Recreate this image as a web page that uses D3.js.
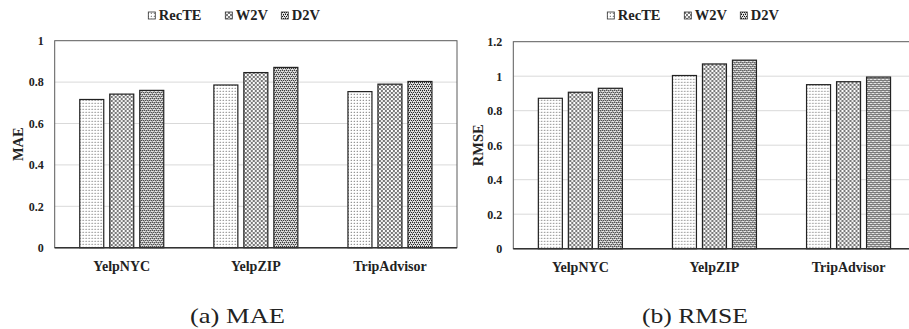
<!DOCTYPE html>
<html><head><meta charset="utf-8">
<script src="https://cdn.jsdelivr.net/npm/d3@7"></script>
<style>
html,body{margin:0;padding:0;background:#fff;}
svg{display:block;}
</style></head>
<body>
<svg id="chart" width="909" height="329"></svg>
<script>
const categories = ["YelpNYC", "YelpZIP", "TripAdvisor"];
const seriesNames = ["RecTE", "W2V", "D2V"];
const maeRecTE = [0.716, 0.786, 0.754];
const maeW2V   = [0.742, 0.846, 0.790];
const maeD2V   = [0.760, 0.871, 0.803];
const rmseRecTE = [0.872, 1.004, 0.951];
const rmseW2V   = [0.907, 1.071, 0.968];
const rmseD2V   = [0.930, 1.093, 0.995];
const maeTicks  = [0, 0.2, 0.4, 0.6, 0.8, 1];
const rmseTicks = [0, 0.2, 0.4, 0.6, 0.8, 1, 1.2];
const captions = ["(a) MAE", "(b) RMSE"];

const svg = d3.select("#chart");
const defs = svg.append("defs");

// patterns
function pat(id, size, bg, cells) {
  const p = defs.append("pattern").attr("id", id)
    .attr("patternUnits", "userSpaceOnUse").attr("width", size).attr("height", size);
  p.append("rect").attr("width", size).attr("height", size).attr("fill", bg);
  cells.forEach(c => p.append("rect").attr("x", c[0]).attr("y", c[1])
    .attr("width", c[2]).attr("height", c[3]).attr("fill", c[4]));
}
pat("pRecTE", 3, "#ffffff", [[1,1,1,1,"#8a8a8a"],[0,1,1,1,"#e4e4e4"],[1,0,1,1,"#e4e4e4"]]);
pat("pW2V", 4, "#ffffff", [[0,0,2,2,"#7a7a7a"],[2,2,2,2,"#7a7a7a"],[2,0,2,2,"#e8e8e8"]]);
pat("pD2V", 4, "#e6e6e6", [[0,0,1,1,"#111"],[2,0,1,1,"#111"],[1,2,1,1,"#111"],[3,2,1,1,"#111"],[1,1,1,1,"#777"],[3,3,1,1,"#777"]]);
const fills = {RecTE: "url(#pRecTE)", W2V: "url(#pW2V)", D2V: "url(#pD2V)"};

const fontB = "'Liberation Serif', 'Times New Roman', serif";

function drawChart(cfg) {
  const g = svg.append("g");
  const left = cfg.left, top = cfg.top, bottom = cfg.bottom, width = 402.3;
  const y = d3.scaleLinear().domain([0, cfg.max]).range([bottom, top]);
  const x0 = d3.scaleBand().domain(categories).range([left, left + width]).paddingInner(0).paddingOuter(0);
  const x1 = d3.scaleBand().domain(seriesNames).range([25.05, 109.05]).paddingInner(0.2).paddingOuter(0);

  // gridlines
  g.append("g").selectAll("line").data(cfg.ticks.filter(t => t > 0 && t < cfg.max)).join("line")
    .attr("x1", left).attr("x2", left + width)
    .attr("y1", d => y(d)).attr("y2", d => y(d))
    .attr("stroke", "#d9d9d9").attr("stroke-width", 1);

  // border
  g.append("rect").attr("x", left).attr("y", top).attr("width", width).attr("height", bottom - top)
    .attr("fill", "none").attr("stroke", "#5a5a5a").attr("stroke-width", 1);

  // bars
  const rows = categories.map((c, i) => ({cat: c, vals: cfg.series.map((s, j) => ({name: seriesNames[j], v: s[i]}))}));
  const grp = g.append("g").selectAll("g").data(rows).join("g")
    .attr("transform", d => `translate(${x0(d.cat)},0)`);
  grp.selectAll("rect").data(d => d.vals).join("rect")
    .attr("x", d => x1(d.name)).attr("width", x1.bandwidth())
    .attr("y", d => y(d.v)).attr("height", d => bottom - y(d.v))
    .attr("fill", d => fills[d.name]).attr("stroke", "#222").attr("stroke-width", 1.2);

  // x axis line
  g.append("line").attr("x1", left).attr("x2", left + width).attr("y1", bottom).attr("y2", bottom)
    .attr("stroke", "#333").attr("stroke-width", 1.5);

  // y axis
  const ya = d3.axisLeft(y).tickValues(cfg.ticks).tickSize(0).tickPadding(11)
    .tickFormat(d => String(+d.toFixed(1)));
  const yg = g.append("g").attr("transform", `translate(${left},0)`).call(ya);
  yg.select(".domain").remove();
  yg.selectAll("text").attr("font-family", fontB).attr("font-weight", "bold")
    .attr("font-size", "12px").attr("fill", "#222");

  // x axis labels
  const xa = d3.axisBottom(x0).tickSize(0).tickPadding(13);
  const xg = g.append("g").attr("transform", `translate(0,${bottom})`).call(xa);
  xg.select(".domain").remove();
  xg.selectAll("text").attr("font-family", fontB).attr("font-weight", "bold")
    .attr("font-size", "14px").attr("fill", "#222");

  // y title
  g.append("text").attr("transform", `translate(${cfg.titleX},${(top + bottom) / 2}) rotate(-90)`)
    .attr("text-anchor", "middle").attr("font-family", fontB).attr("font-weight", "bold")
    .attr("font-size", "14.5px").attr("fill", "#222").text(cfg.title);

  // legend
  const legX = [0, 77, 133];
  seriesNames.forEach((s, i) => {
    const lx = cfg.legendX + legX[i];
    g.append("rect").attr("x", lx).attr("y", 12).attr("width", 7).attr("height", 7)
      .attr("fill", fills[s]).attr("stroke", "#333").attr("stroke-width", 0.8);
    g.append("text").attr("x", lx + 10.5).attr("y", 19.5).attr("font-family", fontB)
      .attr("font-weight", "bold").attr("font-size", "14.5px").attr("fill", "#222").text(s);
  });

  // caption
  g.append("text").attr("x", cfg.capX).attr("y", 322.5).attr("font-family", fontB)
    .attr("font-size", "21px").attr("fill", "#222")
    .attr("textLength", cfg.capW).attr("lengthAdjust", "spacingAndGlyphs").text(cfg.caption);
}

drawChart({left: 54.7, top: 40.7, bottom: 247.7, max: 1, ticks: maeTicks,
  series: [maeRecTE, maeW2V, maeD2V], title: "MAE", titleX: 23, legendX: 148.3,
  caption: captions[0], capX: 190, capW: 95});
drawChart({left: 513.3, top: 41.7, bottom: 248.7, max: 1.2, ticks: rmseTicks,
  series: [rmseRecTE, rmseW2V, rmseD2V], title: "RMSE", titleX: 483, legendX: 607.3,
  caption: captions[1], capX: 642, capW: 106});
</script>
</body></html>
